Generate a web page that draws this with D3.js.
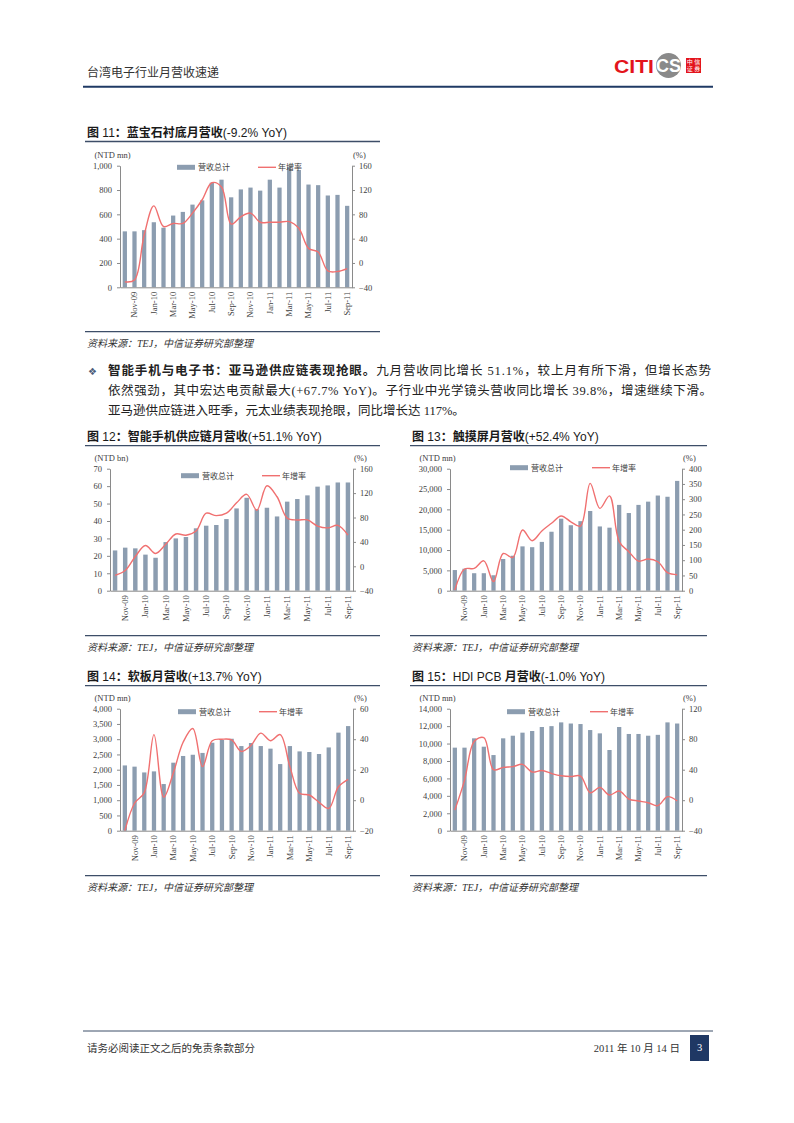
<!DOCTYPE html>
<html>
<head>
<meta charset="utf-8">
<script src="https://cdn.jsdelivr.net/npm/d3@7"></script>
<style>
body { margin: 0; background: #fff; }
svg { display: block; }
</style>
</head>
<body>
<script>
// Months on the category axis (Oct-09 .. Sep-11)
const months = ["Oct-09","Nov-09","Dec-09","Jan-10","Feb-10","Mar-10","Apr-10","May-10","Jun-10","Jul-10","Aug-10","Sep-10",
	"Oct-10","Nov-10","Dec-10","Jan-11","Feb-11","Mar-11","Apr-11","May-11","Jun-11","Jul-11","Aug-11","Sep-11"];

// Fig 11: sapphire substrate (NTD mn, %)
const sapphireRev = [460,460,470,535,490,590,620,680,715,860,885,740,805,820,795,885,820,990,965,845,840,755,760,670];
const sapphireYoy = [-31,-28,46,94,60,65,65,82,104,132,125,64,76,82,67,67,67,68,57,24,18,-13,-14,-9.2];

// Fig 12: smartphone supply chain (NTD bn, %)
const smartRev = [23.1,24.7,24.3,20.7,18.9,27.9,30.0,30.8,35.8,37.3,37.7,41.1,47.2,53.3,46.7,47.6,42.6,51.1,52.6,54.7,59.7,60.4,62.1,62.1];
const smartYoy = [-15,-7,16,34,21,36,53,51,58,87,83,87,104,118,92,132,114,79,76,76,66,63,67,51.1];

// Fig 13: touch panel (NTD mn, %)
const touchRev = [5080,5400,4300,4300,3800,7800,8600,10900,10700,12000,14500,17700,16100,17100,19600,15800,15500,21100,19100,21100,21900,23400,23100,27000];
const touchYoy = [2,71,73,98,30,122,109,199,164,196,221,245,226,212,352,270,311,161,128,97,104,95,59,52.4];

// Fig 14: flexible PCB (NTD mn, %)
const fpcRev = [2140,2100,1910,1945,1530,2230,2450,2490,2550,2885,2975,3015,2775,2875,2775,2690,2185,2775,2600,2580,2515,2730,3215,3430];
const fpcYoy = [-20,-2,5,43,2,18,38,47,22,39,40,39.5,32,36,44,39,43,22,4.5,3.4,-1.4,-5.4,8.8,13.7];

// Fig 15: HDI PCB (NTD mn, %)
const hdiRev = [9530,9530,10600,9640,8680,10600,10900,11250,11440,11900,12000,12430,12300,12240,11550,11170,9260,11900,11100,11100,10900,11000,12430,12300];
const hdiYoy = [-13,26,77,82,40,43,44,47,37,39,35,32,31,31.7,9.8,16.8,6.8,12,1.5,-1,-3.3,-7.2,4.6,-1.0];

const legendLabels = ["营收总计", "年增率"];
const sourceText = "资料来源：TEJ，中信证券研究部整理";

const serif = "'Liberation Serif', 'Noto Sans CJK SC', serif";
const sans = "'Liberation Sans', 'Noto Sans CJK SC', sans-serif";
const cjk = "'Liberation Serif', 'Noto Sans CJK SC', sans-serif";

const barColor = "#8c9db0";
const lineColor = "#f07070";
const ruleColor = "#3d4e68";
const axisColor = "#8a8a8a";
const tickText = "#404040";

const svg = d3.select("body").append("svg")
	.attr("width", 794)
	.attr("height", 1123)
	.style("background", "#fff");

// ---------- page header ----------
svg.append("text")
	.attr("x", 87).attr("y", 76.5)
	.style("font-family", cjk).style("font-size", "12px").style("fill", "#333")
	.text("台湾电子行业月营收速递");

// logo
const logo = svg.append("g");
logo.append("text")
	.attr("x", 614).attr("y", 72.5)
	.style("font-family", "'Liberation Sans', sans-serif").style("font-weight", "bold")
	.style("font-size", "19px").style("fill", "#e3141c")
	.attr("textLength", 40).attr("lengthAdjust", "spacingAndGlyphs")
	.text("CITI");
logo.append("circle").attr("cx", 668.5).attr("cy", 65.5).attr("r", 12.5).attr("fill", "#8a8a8a");
logo.append("text")
	.attr("x", 668.5).attr("y", 72)
	.attr("text-anchor", "middle")
	.style("font-family", "'Liberation Sans', sans-serif").style("font-weight", "bold")
	.style("font-size", "18px").style("fill", "#fff")
	.text("CS");
logo.append("rect").attr("x", 686).attr("y", 58).attr("width", 15).attr("height", 15).attr("fill", "#e3141c");
[["中", 0, 0], ["信", 1, 0], ["证", 0, 1], ["券", 1, 1]].forEach(([c, i, j]) => {
	logo.append("text")
		.attr("x", 689.8 + i * 7.4).attr("y", 64.2 + j * 7.2)
		.attr("text-anchor", "middle")
		.style("font-family", cjk).style("font-size", "6px").style("fill", "#fff")
		.text(c);
});

svg.append("line")
	.attr("x1", 83).attr("x2", 713).attr("y1", 86.7).attr("y2", 86.7)
	.attr("stroke", "#1f3a64").attr("stroke-width", 2);

// ---------- paragraph ----------
svg.append("text")
	.attr("x", 88).attr("y", 374.5)
	.style("font-family", "'DejaVu Sans', sans-serif").style("font-size", "10px").style("fill", "#4a5a78")
	.text("❖");

const para1 = svg.append("text")
	.attr("x", 108).attr("y", 374.5)
	.attr("textLength", 603).attr("lengthAdjust", "spacing")
	.style("font-family", cjk).style("font-size", "12.5px").style("fill", "#222");
para1.append("tspan").style("font-weight", "bold").text("智能手机与电子书：亚马逊供应链表现抢眼。");
para1.append("tspan").text("九月营收同比增长 51.1%，较上月有所下滑，但增长态势");

svg.append("text")
	.attr("x", 108).attr("y", 394.5)
	.attr("textLength", 604).attr("lengthAdjust", "spacing")
	.style("font-family", cjk).style("font-size", "12.5px").style("fill", "#222")
	.text("依然强劲，其中宏达电贡献最大(+67.7% YoY)。子行业中光学镜头营收同比增长 39.8%，增速继续下滑。");

svg.append("text")
	.attr("x", 108).attr("y", 414.5)
	.style("font-family", cjk).style("font-size", "12.5px").style("fill", "#222")
	.text("亚马逊供应链进入旺季，元太业绩表现抢眼，同比增长达 117%。");

// ---------- footer ----------
svg.append("line")
	.attr("x1", 83).attr("x2", 713).attr("y1", 1031).attr("y2", 1031)
	.attr("stroke", "#3d4e68").attr("stroke-width", 1);
svg.append("text")
	.attr("x", 87).attr("y", 1052)
	.style("font-family", cjk).style("font-size", "10.5px").style("fill", "#333")
	.text("请务必阅读正文之后的免责条款部分");
svg.append("text")
	.attr("x", 680).attr("y", 1052)
	.attr("text-anchor", "end")
	.style("font-family", cjk).style("font-size", "10.5px").style("fill", "#333")
	.text("2011 年 10 月 14 日");
svg.append("rect")
	.attr("x", 690).attr("y", 1035).attr("width", 19).attr("height", 26)
	.attr("fill", "#1f3864");
svg.append("text")
	.attr("x", 699.5).attr("y", 1051)
	.attr("text-anchor", "middle")
	.style("font-family", serif).style("font-size", "10.5px").style("fill", "#fff")
	.text("3");

// ---------- charts ----------
// Title: CJK runs heavy, latin runs regular weight
function titleRuns(t) {
	return t.match(/[\u3000-\u9fff\uff00-\uffef]+|[^\u3000-\u9fff\uff00-\uffef]+/g);
}

function drawChart(cfg) {
	const g = svg.append("g");
	const p = cfg.plot;

	// Title and rules
	const title = g.append("text")
		.attr("x", cfg.left + 2).attr("y", cfg.titleY)
		.style("font-family", sans)
		.style("font-size", "12px").style("fill", "#1a1a1a");
	titleRuns(cfg.title).forEach((r) => {
		title.append("tspan")
			.style("font-weight", /[\u3000-\u9fff\uff00-\uffef]/.test(r) ? "bold" : "normal")
			.text(r);
	});
	g.append("line")
		.attr("x1", cfg.left).attr("x2", cfg.right)
		.attr("y1", cfg.ruleY).attr("y2", cfg.ruleY)
		.attr("stroke", ruleColor).attr("stroke-width", 1.3);
	g.append("line")
		.attr("x1", cfg.left).attr("x2", cfg.right)
		.attr("y1", cfg.sourceY).attr("y2", cfg.sourceY)
		.attr("stroke", ruleColor).attr("stroke-width", 1.3);
	g.append("text")
		.attr("x", cfg.left + 2).attr("y", cfg.sourceY + 15)
		.style("font-family", cjk).style("font-style", "italic")
		.style("font-size", "10px").style("fill", "#333")
		.text(sourceText);

	// Unit labels
	g.append("text")
		.attr("x", cfg.left + 9.5).attr("y", p.t - 7.5)
		.style("font-family", serif).style("font-size", "8.5px").style("fill", tickText)
		.text(cfg.unit);
	g.append("text")
		.attr("x", p.r + 1).attr("y", p.t - 7.5)
		.style("font-family", serif).style("font-size", "8.5px").style("fill", tickText)
		.text("(%)");

	const x = d3.scaleBand()
		.domain(months)
		.range([p.l, p.r])
		.paddingInner(0.56)
		.paddingOuter(0.28);
	const yL = d3.scaleLinear().domain(cfg.leftDomain).range([p.b, p.t]);
	const yR = d3.scaleLinear().domain(cfg.rightDomain).range([p.b, p.t]);

	// Bars
	g.append("g")
		.selectAll("rect")
		.data(cfg.rev)
		.join("rect")
		.attr("x", (d, i) => x(months[i]))
		.attr("y", (d) => yL(d))
		.attr("width", x.bandwidth())
		.attr("height", (d) => yL(0) - yL(d))
		.attr("fill", barColor);

	// Smoothed YoY line
	const line = d3.line()
		.x((d, i) => x(months[i]) + x.bandwidth() / 2)
		.y((d) => yR(d))
		.curve(d3.curveCatmullRom.alpha(0.5));
	g.append("path")
		.datum(cfg.yoy)
		.attr("d", line)
		.attr("fill", "none")
		.attr("stroke", lineColor)
		.attr("stroke-width", 1.4);

	// Axes
	const axisL = g.append("g")
		.attr("transform", `translate(${p.l},0)`)
		.call(d3.axisLeft(yL).tickValues(cfg.leftTicks).tickSize(3).tickSizeOuter(0).tickPadding(5)
			.tickFormat(d3.format(",")));
	const axisR = g.append("g")
		.attr("transform", `translate(${p.r},0)`)
		.call(d3.axisRight(yR).tickValues(cfg.rightTicks).tickSize(3).tickSizeOuter(0).tickPadding(4)
			.tickFormat(d3.format("d")));
	const axisB = g.append("g")
		.attr("transform", `translate(0,${p.b})`)
		.call(d3.axisBottom(x).tickSize(0).tickSizeOuter(0)
			.tickFormat((d, i) => (i % 2 === 1 ? d : "")));
	axisB.selectAll("text")
		.attr("transform", "rotate(-90)")
		.attr("x", -4.5)
		.attr("y", 0)
		.attr("dy", "0.35em")
		.style("text-anchor", "end");

	[axisL, axisR, axisB].forEach((a) => {
		a.select(".domain").attr("stroke", axisColor);
		a.selectAll(".tick line").attr("stroke", axisColor);
		a.selectAll("text")
			.style("font-family", serif)
			.style("font-size", "8.5px")
			.style("fill", tickText);
	});

	// Legend
	const lg = g.append("g").attr("transform", `translate(0,${cfg.legendY})`);
	lg.append("rect")
		.attr("x", cfg.legendX[0]).attr("y", -2.5)
		.attr("width", 18).attr("height", 5)
		.attr("fill", barColor);
	lg.append("text")
		.attr("x", cfg.legendX[0] + 21).attr("y", 3)
		.style("font-family", cjk).style("font-size", "8px").style("fill", tickText)
		.text(legendLabels[0]);
	lg.append("line")
		.attr("x1", cfg.legendX[1]).attr("x2", cfg.legendX[1] + 18)
		.attr("y1", 0).attr("y2", 0)
		.attr("stroke", lineColor).attr("stroke-width", 1.4);
	lg.append("text")
		.attr("x", cfg.legendX[1] + 20).attr("y", 3)
		.style("font-family", cjk).style("font-size", "8px").style("fill", tickText)
		.text(legendLabels[1]);
}

drawChart({
	title: "图 11：蓝宝石衬底月营收(-9.2% YoY)",
	unit: "(NTD mn)",
	left: 85, right: 380, titleY: 137, ruleY: 141.5, sourceY: 331.7,
	plot: { l: 120, r: 352, t: 165.7, b: 287.3 },
	rev: sapphireRev, yoy: sapphireYoy,
	leftDomain: [0, 1000], leftTicks: d3.range(0, 1001, 200),
	rightDomain: [-40, 160], rightTicks: d3.range(-40, 161, 40),
	legendX: [177, 258], legendY: 167.3,
});

drawChart({
	title: "图 12：智能手机供应链月营收(+51.1% YoY)",
	unit: "(NTD bn)",
	left: 85, right: 380, titleY: 441, ruleY: 445.7, sourceY: 635.7,
	plot: { l: 110, r: 353, t: 468.7, b: 590.7 },
	rev: smartRev, yoy: smartYoy,
	leftDomain: [0, 70], leftTicks: d3.range(0, 71, 10),
	rightDomain: [-40, 160], rightTicks: d3.range(-40, 161, 40),
	legendX: [181, 262], legendY: 475.7,
});

drawChart({
	title: "图 13：触摸屏月营收(+52.4% YoY)",
	unit: "(NTD mn)",
	left: 410, right: 707, titleY: 441, ruleY: 445.7, sourceY: 635.7,
	plot: { l: 450, r: 682, t: 468.7, b: 590.7 },
	rev: touchRev, yoy: touchYoy,
	leftDomain: [0, 30000], leftTicks: d3.range(0, 30001, 5000),
	rightDomain: [0, 400], rightTicks: d3.range(0, 401, 50),
	legendX: [510, 592], legendY: 467.7,
});

drawChart({
	title: "图 14：软板月营收(+13.7% YoY)",
	unit: "(NTD mn)",
	left: 85, right: 380, titleY: 681, ruleY: 685.7, sourceY: 875.7,
	plot: { l: 120, r: 353, t: 708.7, b: 830.7 },
	rev: fpcRev, yoy: fpcYoy,
	leftDomain: [0, 4000], leftTicks: d3.range(0, 4001, 500),
	rightDomain: [-20, 60], rightTicks: d3.range(-20, 61, 20),
	legendX: [178, 259], legendY: 711.7,
});

drawChart({
	title: "图 15：HDI PCB 月营收(-1.0% YoY)",
	unit: "(NTD mn)",
	left: 410, right: 707, titleY: 681, ruleY: 685.7, sourceY: 875.7,
	plot: { l: 450, r: 682, t: 708.7, b: 830.7 },
	rev: hdiRev, yoy: hdiYoy,
	leftDomain: [0, 14000], leftTicks: d3.range(0, 14001, 2000),
	rightDomain: [-40, 120], rightTicks: d3.range(-40, 121, 40),
	legendX: [507, 590], legendY: 711.7,
});
</script>
</body>
</html>
